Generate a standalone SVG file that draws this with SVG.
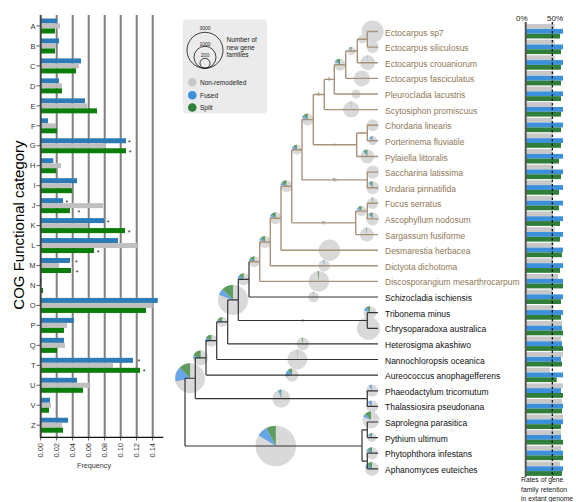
<svg xmlns="http://www.w3.org/2000/svg" width="576" height="502" viewBox="0 0 576 502">
<style>
text{font-family:"Liberation Sans",Arial,sans-serif}
.grid{stroke:#808080;stroke-width:2}
.lb{fill:#2c7bb6}.lg{fill:#c0c0c0}.lgr{fill:#0b7d0b}
.cat{font-size:7.5px;fill:#333;text-anchor:end}
.ast{font-size:7px;fill:#222}
.tick{stroke:#333;stroke-width:0.8}
.xt{font-size:7.5px;fill:#333;text-anchor:end}
.rg{fill:#c8c8c8}.rb{fill:#3b8fdb}.rgr{fill:#2f7f3b}
.pg{fill:#d9d9d9}
.sg{fill:none;stroke:#5f9d5f}
.sb{fill:none;stroke:#66a6e6}
.brown{fill:none;stroke:#a8927a;stroke-width:1.4}
.black{fill:none;stroke:#333;stroke-width:1.2}
.sp{font-size:8.5px}
.spb{fill:#8f7758}
.spk{fill:#111}
.leg{font-size:6.5px;fill:#222}
</style>

<!-- LEFT BAR CHART -->
<g id="cog-chart">
  <g id="gridlines">
    <line class="grid" x1="56.7" y1="15" x2="56.7" y2="437"/>
    <line class="grid" x1="72.7" y1="15" x2="72.7" y2="437"/>
    <line class="grid" x1="88.7" y1="15" x2="88.7" y2="437"/>
    <line class="grid" x1="104.7" y1="15" x2="104.7" y2="437"/>
    <line class="grid" x1="120.7" y1="15" x2="120.7" y2="437"/>
    <line class="grid" x1="136.7" y1="15" x2="136.7" y2="437"/>
    <line class="grid" x1="152.7" y1="15" x2="152.7" y2="437"/>
  </g>
  <g id="bars">
    <g transform="translate(0,26)"><rect class="lb" x="40.7" y="-7.5" width="16.3" height="5"/><rect class="lg" x="40.7" y="-2.5" width="19.3" height="5"/><rect class="lgr" x="40.7" y="2.5" width="14.3" height="5"/><text class="cat" x="35.5" y="2.7">A</text><line class="tick" x1="36.5" y1="0" x2="40.7" y2="0"/></g>
    <g transform="translate(0,45.96)"><rect class="lb" x="40.7" y="-7.5" width="18.3" height="5"/><rect class="lg" x="40.7" y="-2.5" width="15.3" height="5"/><rect class="lgr" x="40.7" y="2.5" width="14.3" height="5"/><text class="cat" x="35.5" y="2.7">B</text><line class="tick" x1="36.5" y1="0" x2="40.7" y2="0"/></g>
    <g transform="translate(0,65.92)"><rect class="lb" x="40.7" y="-7.5" width="40.3" height="5"/><rect class="lg" x="40.7" y="-2.5" width="38.3" height="5"/><rect class="lgr" x="40.7" y="2.5" width="35.3" height="5"/><text class="cat" x="35.5" y="2.7">C</text><line class="tick" x1="36.5" y1="0" x2="40.7" y2="0"/></g>
    <g transform="translate(0,85.88)"><rect class="lb" x="40.7" y="-7.5" width="18.3" height="5"/><rect class="lg" x="40.7" y="-2.5" width="21.3" height="5"/><rect class="lgr" x="40.7" y="2.5" width="21.3" height="5"/><text class="cat" x="35.5" y="2.7">D</text><line class="tick" x1="36.5" y1="0" x2="40.7" y2="0"/></g>
    <g transform="translate(0,105.84)"><rect class="lb" x="40.7" y="-7.5" width="44.3" height="5"/><rect class="lg" x="40.7" y="-2.5" width="46.3" height="5"/><rect class="lgr" x="40.7" y="2.5" width="56.3" height="5"/><text class="cat" x="35.5" y="2.7">E</text><line class="tick" x1="36.5" y1="0" x2="40.7" y2="0"/></g>
    <g transform="translate(0,125.8)"><rect class="lb" x="40.7" y="-7.5" width="7.3" height="5"/><rect class="lg" x="40.7" y="-2.5" width="15.3" height="5"/><rect class="lgr" x="40.7" y="2.5" width="16.3" height="5"/><text class="cat" x="35.5" y="2.7">F</text><line class="tick" x1="36.5" y1="0" x2="40.7" y2="0"/></g>
    <g transform="translate(0,145.76)"><rect class="lb" x="40.7" y="-7.5" width="85.3" height="5"/><rect class="lg" x="40.7" y="-2.5" width="65" height="5"/><rect class="lgr" x="40.7" y="2.5" width="85.3" height="5"/><text class="cat" x="35.5" y="2.7">G</text><line class="tick" x1="36.5" y1="0" x2="40.7" y2="0"/><text class="ast" x="128" y="-1">*</text><text class="ast" x="128.7" y="9">*</text></g>
    <g transform="translate(0,165.72)"><rect class="lb" x="40.7" y="-7.5" width="12.6" height="5"/><rect class="lg" x="40.7" y="-2.5" width="20.3" height="5"/><rect class="lgr" x="40.7" y="2.5" width="15.3" height="5"/><text class="cat" x="35.5" y="2.7">H</text><line class="tick" x1="36.5" y1="0" x2="40.7" y2="0"/></g>
    <g transform="translate(0,185.68)"><rect class="lb" x="40.7" y="-7.5" width="36.3" height="5"/><rect class="lg" x="40.7" y="-2.5" width="30.3" height="5"/><rect class="lgr" x="40.7" y="2.5" width="31.3" height="5"/><text class="cat" x="35.5" y="2.7">I</text><line class="tick" x1="36.5" y1="0" x2="40.7" y2="0"/></g>
    <g transform="translate(0,205.64)"><rect class="lb" x="40.7" y="-7.5" width="22.3" height="5"/><rect class="lg" x="40.7" y="-2.5" width="62.3" height="5"/><rect class="lgr" x="40.7" y="2.5" width="29.3" height="5"/><text class="cat" x="35.5" y="2.7">J</text><line class="tick" x1="36.5" y1="0" x2="40.7" y2="0"/><text class="ast" x="65.4" y="-1">*</text><text class="ast" x="77.4" y="9">*</text></g>
    <g transform="translate(0,225.6)"><rect class="lb" x="40.7" y="-7.5" width="63.3" height="5"/><rect class="lg" x="40.7" y="-2.5" width="47.3" height="5"/><rect class="lgr" x="40.7" y="2.5" width="84.3" height="5"/><text class="cat" x="35.5" y="2.7">K</text><line class="tick" x1="36.5" y1="0" x2="40.7" y2="0"/><text class="ast" x="106.7" y="-1">*</text><text class="ast" x="127.7" y="9">*</text></g>
    <g transform="translate(0,245.56)"><rect class="lb" x="40.7" y="-7.5" width="77.3" height="5"/><rect class="lg" x="40.7" y="-2.5" width="96.3" height="5"/><rect class="lgr" x="40.7" y="2.5" width="53.3" height="5"/><text class="cat" x="35.5" y="2.7">L</text><line class="tick" x1="36.5" y1="0" x2="40.7" y2="0"/><text class="ast" x="96.7" y="9">*</text></g>
    <g transform="translate(0,265.52)"><rect class="lb" x="40.7" y="-7.5" width="29.3" height="5"/><rect class="lg" x="40.7" y="-2.5" width="18.3" height="5"/><rect class="lgr" x="40.7" y="2.5" width="30.3" height="5"/><text class="cat" x="35.5" y="2.7">M</text><line class="tick" x1="36.5" y1="0" x2="40.7" y2="0"/><text class="ast" x="75" y="-1">*</text><text class="ast" x="75.7" y="9">*</text></g>
    <g transform="translate(0,285.48)"><rect class="lb" x="40.7" y="-7.5" width="1" height="5"/><rect class="lgr" x="40.7" y="2.5" width="2.3" height="5"/><text class="cat" x="35.5" y="2.7">N</text><line class="tick" x1="36.5" y1="0" x2="40.7" y2="0"/></g>
    <g transform="translate(0,305.44)"><rect class="lb" x="40.7" y="-7.5" width="117" height="5"/><rect class="lg" x="40.7" y="-2.5" width="112" height="5"/><rect class="lgr" x="40.7" y="2.5" width="105.3" height="5"/><text class="cat" x="35.5" y="2.7">O</text><line class="tick" x1="36.5" y1="0" x2="40.7" y2="0"/></g>
    <g transform="translate(0,325.4)"><rect class="lb" x="40.7" y="-7.5" width="33.3" height="5"/><rect class="lg" x="40.7" y="-2.5" width="26.3" height="5"/><rect class="lgr" x="40.7" y="2.5" width="23.3" height="5"/><text class="cat" x="35.5" y="2.7">P</text><line class="tick" x1="36.5" y1="0" x2="40.7" y2="0"/></g>
    <g transform="translate(0,345.36)"><rect class="lb" x="40.7" y="-7.5" width="23.3" height="5"/><rect class="lg" x="40.7" y="-2.5" width="24.3" height="5"/><rect class="lgr" x="40.7" y="2.5" width="16.3" height="5"/><text class="cat" x="35.5" y="2.7">Q</text><line class="tick" x1="36.5" y1="0" x2="40.7" y2="0"/></g>
    <g transform="translate(0,365.32)"><rect class="lb" x="40.7" y="-7.5" width="92.3" height="5"/><rect class="lg" x="40.7" y="-2.5" width="72.3" height="5"/><rect class="lgr" x="40.7" y="2.5" width="99.3" height="5"/><text class="cat" x="35.5" y="2.7">T</text><line class="tick" x1="36.5" y1="0" x2="40.7" y2="0"/><text class="ast" x="137.4" y="-1">*</text><text class="ast" x="142.7" y="9">*</text></g>
    <g transform="translate(0,385.28)"><rect class="lb" x="40.7" y="-7.5" width="36.3" height="5"/><rect class="lg" x="40.7" y="-2.5" width="48.3" height="5"/><rect class="lgr" x="40.7" y="2.5" width="42.3" height="5"/><text class="cat" x="35.5" y="2.7">U</text><line class="tick" x1="36.5" y1="0" x2="40.7" y2="0"/></g>
    <g transform="translate(0,405.24)"><rect class="lb" x="40.7" y="-7.5" width="9.3" height="5"/><rect class="lg" x="40.7" y="-2.5" width="10.3" height="5"/><rect class="lgr" x="40.7" y="2.5" width="8.3" height="5"/><text class="cat" x="35.5" y="2.7">V</text><line class="tick" x1="36.5" y1="0" x2="40.7" y2="0"/></g>
    <g transform="translate(0,425.2)"><rect class="lb" x="40.7" y="-7.5" width="27.3" height="5"/><rect class="lg" x="40.7" y="-2.5" width="21.3" height="5"/><rect class="lgr" x="40.7" y="2.5" width="22.3" height="5"/><text class="cat" x="35.5" y="2.7">Z</text><line class="tick" x1="36.5" y1="0" x2="40.7" y2="0"/></g>
  </g>
  <g id="axes">
    <line x1="40.7" y1="15" x2="40.7" y2="437.5" stroke="#444" stroke-width="2"/>
    <line x1="40" y1="437.3" x2="163.3" y2="437.3" stroke="#111" stroke-width="1.2"/>
    <g class="tick">
      <line x1="40.7" y1="437" x2="40.7" y2="440.5"/><line x1="56.7" y1="437" x2="56.7" y2="440.5"/><line x1="72.7" y1="437" x2="72.7" y2="440.5"/><line x1="88.7" y1="437" x2="88.7" y2="440.5"/><line x1="104.7" y1="437" x2="104.7" y2="440.5"/><line x1="120.7" y1="437" x2="120.7" y2="440.5"/><line x1="136.7" y1="437" x2="136.7" y2="440.5"/><line x1="152.7" y1="437" x2="152.7" y2="440.5"/>
    </g>
    <text class="xt" transform="translate(43.3,443) rotate(-90)">0.00</text>
    <text class="xt" transform="translate(59.3,443) rotate(-90)">0.02</text>
    <text class="xt" transform="translate(75.3,443) rotate(-90)">0.04</text>
    <text class="xt" transform="translate(91.3,443) rotate(-90)">0.06</text>
    <text class="xt" transform="translate(107.3,443) rotate(-90)">0.08</text>
    <text class="xt" transform="translate(123.3,443) rotate(-90)">0.10</text>
    <text class="xt" transform="translate(139.3,443) rotate(-90)">0.12</text>
    <text class="xt" transform="translate(155.3,443) rotate(-90)">0.14</text>
    <text x="94" y="467.5" font-size="7.2" fill="#333" text-anchor="middle">Frequency</text>
    <text transform="translate(24,225) rotate(-90)" font-size="15" fill="#000" text-anchor="middle">COG Functional category</text>
  </g>
</g>

<!-- LEGEND -->
<g id="legend">
  <rect x="183" y="19.5" width="84" height="94" rx="4" fill="#ebebeb"/>
  <circle cx="205" cy="50.3" r="18" fill="none" stroke="#111" stroke-width="0.8"/>
  <circle cx="205" cy="57.3" r="11" fill="none" stroke="#111" stroke-width="0.8"/>
  <circle cx="205" cy="63.3" r="5" fill="none" stroke="#111" stroke-width="0.8"/>
  <text x="205" y="30" font-size="5" fill="#222" text-anchor="middle">3000</text>
  <text x="205" y="45.8" font-size="5" fill="#222" text-anchor="middle">1000</text>
  <text x="205" y="56.8" font-size="5" fill="#222" text-anchor="middle">200</text>
  <text class="leg" x="226.5" y="42">Number of</text>
  <text class="leg" x="226.5" y="49.7">new gene</text>
  <text class="leg" x="226.5" y="57.2">families</text>
  <circle cx="192.3" cy="82.3" r="4.3" fill="#c8c8c8"/>
  <circle cx="192.3" cy="95.3" r="4.3" fill="#3b8fdb"/>
  <circle cx="192.3" cy="107.5" r="4.3" fill="#2f7f3b"/>
  <text class="leg" x="200" y="84.5">Non-remodelled</text>
  <text class="leg" x="200" y="97.5">Fused</text>
  <text class="leg" x="200" y="109.7">Split</text>
</g>

<!-- TREE: node pies (drawn below connectors) -->
<g id="node-pies">
  <g id="n1" transform="matrix(0 -1 -1 0 362.3 39.3)"><circle class="pg" r="4"/></g>
  <g id="n2" transform="matrix(0 -1 -1 0 351.5 51)"><circle class="pg" r="4"/><circle class="sg" r="2" stroke-width="4" pathLength="360" stroke-dasharray="25 360"/><circle class="sb" r="2" stroke-width="4" pathLength="360" stroke-dasharray="0 25 12 360"/></g>
  <g id="n3" transform="matrix(0 -1 -1 0 340 64.7)"><circle class="pg" r="6"/><circle class="sg" r="3" stroke-width="6" pathLength="360" stroke-dasharray="40 360"/><circle class="sb" r="3" stroke-width="6" pathLength="360" stroke-dasharray="0 40 20 360"/></g>
  <g id="n4" transform="matrix(0 -1 -1 0 329.3 79.35)"><circle class="pg" r="2"/><circle class="sg" r="1" stroke-width="2" pathLength="360" stroke-dasharray="30 360"/></g>
  <g id="n5" transform="matrix(0 -1 -1 0 318.8 94.5)"><circle class="pg" r="2"/><circle class="sg" r="1" stroke-width="2" pathLength="360" stroke-dasharray="30 360"/></g>
  <g id="n7" transform="matrix(0 -1 -1 0 362 133)"><circle class="pg" r="1.5"/></g>
  <g id="n8" transform="matrix(0 -1 -1 0 335 144.75)"><circle class="pg" r="1.6"/></g>
  <g id="n6" transform="matrix(0 -1 -1 0 307.65 119.6)"><circle class="pg" r="6"/><circle class="sg" r="3" stroke-width="6" pathLength="360" stroke-dasharray="40 360"/><circle class="sb" r="3" stroke-width="6" pathLength="360" stroke-dasharray="0 40 30 360"/></g>
  <g id="nSU" transform="matrix(0 -1 -1 0 334.65 179.9)"><circle class="pg" r="2.2"/><circle class="sb" r="1.1" stroke-width="2.2" pathLength="360" stroke-dasharray="0 5 60 360"/></g>
  <g id="n9" transform="matrix(0 -1 -1 0 296.85 149.75)"><circle class="pg" r="5"/><circle class="sg" r="2.5" stroke-width="5" pathLength="360" stroke-dasharray="45 360"/><circle class="sb" r="2.5" stroke-width="5" pathLength="360" stroke-dasharray="0 45 30 360"/></g>
  <g id="nFA" transform="matrix(0 -1 -1 0 361.5 211.1)"><circle class="pg" r="5"/><circle class="sg" r="2.5" stroke-width="5" pathLength="360" stroke-dasharray="40 360"/><circle class="sb" r="2.5" stroke-width="5" pathLength="360" stroke-dasharray="0 40 25 360"/></g>
  <g id="nFAS" transform="matrix(0 -1 -1 0 323.7 222.85)"><circle class="pg" r="2"/><circle class="sb" r="1" stroke-width="2" pathLength="360" stroke-dasharray="0 5 50 360"/></g>
  <g id="n10" transform="matrix(0 -1 -1 0 286.35 186.3)"><circle class="pg" r="6"/><circle class="sg" r="3" stroke-width="6" pathLength="360" stroke-dasharray="50 360"/><circle class="sb" r="3" stroke-width="6" pathLength="360" stroke-dasharray="0 50 25 360"/></g>
  <g id="n11" transform="matrix(0 -1 -1 0 275.65 218.25)"><circle class="pg" r="6"/><circle class="sg" r="3" stroke-width="6" pathLength="360" stroke-dasharray="45 360"/><circle class="sb" r="3" stroke-width="6" pathLength="360" stroke-dasharray="0 45 25 360"/></g>
  <g id="n12" transform="matrix(0 -1 -1 0 265 242)"><circle class="pg" r="6"/><circle class="sg" r="3" stroke-width="6" pathLength="360" stroke-dasharray="45 360"/><circle class="sb" r="3" stroke-width="6" pathLength="360" stroke-dasharray="0 45 25 360"/></g>
  <g id="n13" transform="matrix(0 -1 -1 0 254.35 261.7)"><circle class="pg" r="5.5"/><circle class="sg" r="2.75" stroke-width="5.5" pathLength="360" stroke-dasharray="50 360"/><circle class="sb" r="2.75" stroke-width="5.5" pathLength="360" stroke-dasharray="0 50 30 360"/></g>
  <g id="n14" transform="matrix(0 -1 -1 0 243.65 279.35)"><circle class="pg" r="6"/><circle class="sg" r="3" stroke-width="6" pathLength="360" stroke-dasharray="50 360"/><circle class="sb" r="3" stroke-width="6" pathLength="360" stroke-dasharray="0 50 35 360"/></g>
  <g id="nTC" transform="matrix(0 -1 -1 0 302.8 320.5)"><circle class="pg" r="1.6"/><circle class="sg" r="0.8" stroke-width="1.6" pathLength="360" stroke-dasharray="40 360"/></g>
  <g id="n15" transform="matrix(0 -1 -1 0 233 299.9)"><circle class="pg" r="15"/><circle class="sg" r="7.5" stroke-width="15" pathLength="360" stroke-dasharray="45 360"/><circle class="sb" r="7.5" stroke-width="15" pathLength="360" stroke-dasharray="0 45 25 360"/></g>
  <g id="n16" transform="matrix(0 -1 -1 0 222.2 321.9)"><circle class="pg" r="5"/><circle class="sg" r="2.5" stroke-width="5" pathLength="360" stroke-dasharray="60 360"/><circle class="sb" r="2.5" stroke-width="5" pathLength="360" stroke-dasharray="0 60 30 360"/></g>
  <g id="n17" transform="matrix(0 -1 -1 0 211.35 340.7)"><circle class="pg" r="6"/><circle class="sg" r="3" stroke-width="6" pathLength="360" stroke-dasharray="60 360"/><circle class="sb" r="3" stroke-width="6" pathLength="360" stroke-dasharray="0 60 40 360"/></g>
  <g id="n18" transform="matrix(0 -1 -1 0 200.65 357.9)"><circle class="pg" r="7.5"/><circle class="sg" r="3.75" stroke-width="7.5" pathLength="360" stroke-dasharray="70 360"/><circle class="sb" r="3.75" stroke-width="7.5" pathLength="360" stroke-dasharray="0 70 25 360"/></g>
  <g id="nPT" transform="matrix(0 -1 -1 0 281.3 398.6)"><circle class="pg" r="9"/><circle class="sg" r="4.5" stroke-width="9" pathLength="360" stroke-dasharray="10 360"/><circle class="sb" r="4.5" stroke-width="9" pathLength="360" stroke-dasharray="0 10 12 360"/></g>
  <g id="n19" transform="matrix(0 -1 -1 0 190.15 378.25)"><circle class="pg" r="15"/><circle class="sg" r="7.5" stroke-width="15" pathLength="360" stroke-dasharray="45 360"/><circle class="sb" r="7.5" stroke-width="15" pathLength="360" stroke-dasharray="0 45 58 360"/></g>
  <g id="nOO" transform="matrix(0 -1 -1 0 275.8 446)"><circle class="pg" r="20.3"/><circle class="sg" r="10.15" stroke-width="20.3" pathLength="360" stroke-dasharray="28 360"/><circle class="sb" r="10.15" stroke-width="20.3" pathLength="360" stroke-dasharray="0 28 30 360"/></g>
</g>

<!-- Leaf pies -->
<g id="leaf-pies">
  <g transform="matrix(0 -1 -1 0 372.65 31.5)"><circle class="pg" r="11"/></g>
  <g transform="matrix(0 -1 -1 0 372.65 47.1)"><circle class="pg" r="6"/></g>
  <g transform="matrix(0 -1 -1 0 367.65 62.7)"><circle class="pg" r="7.5"/><circle class="sb" r="3.75" stroke-width="7.5" pathLength="360" stroke-dasharray="0 2 4 360"/></g>
  <g transform="matrix(0 -1 -1 0 361.85 78.4)"><circle class="pg" r="8"/></g>
  <g transform="matrix(0 -1 -1 0 356.15 94)"><circle class="pg" r="4.5"/></g>
  <g transform="matrix(0 -1 -1 0 351.15 109.6)"><circle class="pg" r="8"/><circle class="sg" r="4" stroke-width="8" pathLength="360" stroke-dasharray="4 360"/></g>
  <g transform="matrix(0 -1 -1 0 372.65 125.2)"><circle class="pg" r="6"/></g>
  <g transform="matrix(0 -1 -1 0 372.65 140.8)"><circle class="pg" r="4.5"/><circle class="sg" r="2.25" stroke-width="4.5" pathLength="360" stroke-dasharray="10 360"/><circle class="sb" r="2.25" stroke-width="4.5" pathLength="360" stroke-dasharray="0 10 40 360"/></g>
  <g transform="matrix(0 -1 -1 0 367.35 156.5)"><circle class="pg" r="7"/><circle class="sg" r="3.5" stroke-width="7" pathLength="360" stroke-dasharray="25 360"/><circle class="sb" r="3.5" stroke-width="7" pathLength="360" stroke-dasharray="0 25 15 360"/></g>
  <g transform="matrix(0 -1 -1 0 372.65 172.1)"><circle class="pg" r="6.5"/></g>
  <g transform="matrix(0 -1 -1 0 372.65 187.7)"><circle class="pg" r="6.5"/><circle class="sg" r="3.25" stroke-width="6.5" pathLength="360" stroke-dasharray="25 360"/><circle class="sb" r="3.25" stroke-width="6.5" pathLength="360" stroke-dasharray="0 25 15 360"/></g>
  <g transform="matrix(0 -1 -1 0 372.65 203.3)"><circle class="pg" r="5.7"/><circle class="sg" r="2.85" stroke-width="5.7" pathLength="360" stroke-dasharray="10 360"/></g>
  <g transform="matrix(0 -1 -1 0 372.65 218.9)"><circle class="pg" r="6.5"/><circle class="sg" r="3.25" stroke-width="6.5" pathLength="360" stroke-dasharray="25 360"/><circle class="sb" r="3.25" stroke-width="6.5" pathLength="360" stroke-dasharray="0 25 15 360"/></g>
  <g transform="matrix(0 -1 -1 0 366.85 234.6)"><circle class="pg" r="7"/><circle class="sg" r="3.5" stroke-width="7" pathLength="360" stroke-dasharray="5 360"/><circle class="sb" r="3.5" stroke-width="7" pathLength="360" stroke-dasharray="0 5 5 360"/></g>
  <g transform="matrix(0 -1 -1 0 329.5 250.2)"><circle class="pg" r="10.7"/></g>
  <g transform="matrix(0 -1 -1 0 324.15 265.8)"><circle class="pg" r="5.7"/><circle class="sg" r="2.85" stroke-width="5.7" pathLength="360" stroke-dasharray="5 360"/><circle class="sb" r="2.85" stroke-width="5.7" pathLength="360" stroke-dasharray="0 5 10 360"/></g>
  <g transform="matrix(0 -1 -1 0 318.85 281.4)"><circle class="pg" r="10.3"/><circle class="sg" r="5.15" stroke-width="10.3" pathLength="360" stroke-dasharray="8 360"/></g>
  <g transform="matrix(0 -1 -1 0 313.5 297)"><circle class="pg" r="5.3"/><circle class="sg" r="2.65" stroke-width="5.3" pathLength="360" stroke-dasharray="8 360"/></g>
  <g transform="matrix(0 -1 -1 0 370 312.7)"><circle class="pg" r="6.5"/><circle class="sg" r="3.25" stroke-width="6.5" pathLength="360" stroke-dasharray="35 360"/><circle class="sb" r="3.25" stroke-width="6.5" pathLength="360" stroke-dasharray="0 35 30 360"/></g>
  <g transform="matrix(0 -1 -1 0 368.5 328.3)"><circle class="pg" r="11.5"/></g>
  <g transform="matrix(0 -1 -1 0 302.85 343.9)"><circle class="pg" r="6.3"/><circle class="sg" r="3.15" stroke-width="6.3" pathLength="360" stroke-dasharray="12 360"/></g>
  <g transform="matrix(0 -1 -1 0 297.35 359.5)"><circle class="pg" r="10"/><circle class="sg" r="5" stroke-width="10" pathLength="360" stroke-dasharray="3 360"/></g>
  <g transform="matrix(0 -1 -1 0 292 375.1)"><circle class="pg" r="6.5"/><circle class="sg" r="3.25" stroke-width="6.5" pathLength="360" stroke-dasharray="35 360"/><circle class="sb" r="3.25" stroke-width="6.5" pathLength="360" stroke-dasharray="0 35 70 360"/></g>
  <g transform="matrix(0 -1 -1 0 372 390.8)"><circle class="pg" r="6"/><circle class="sg" r="3" stroke-width="6" pathLength="360" stroke-dasharray="5 360"/><circle class="sb" r="3" stroke-width="6" pathLength="360" stroke-dasharray="0 5 25 360"/></g>
  <g transform="matrix(0 -1 -1 0 372 406.4)"><circle class="pg" r="6"/><circle class="sb" r="3" stroke-width="6" pathLength="360" stroke-dasharray="0 3 40 360"/></g>
  <g transform="matrix(0 -1 -1 0 371 420)"><circle class="pg" r="8.5"/><circle class="sg" r="4.25" stroke-width="8.5" pathLength="360" stroke-dasharray="45 360"/><circle class="sb" r="4.25" stroke-width="8.5" pathLength="360" stroke-dasharray="0 45 20 360"/></g>
  <g transform="matrix(0 -1 -1 0 372 437.6)"><circle class="pg" r="4.5"/><circle class="sg" r="2.25" stroke-width="4.5" pathLength="360" stroke-dasharray="30 360"/><circle class="sb" r="2.25" stroke-width="4.5" pathLength="360" stroke-dasharray="0 30 30 360"/></g>
  <g transform="matrix(0 -1 -1 0 372 453.2)"><circle class="pg" r="6"/><circle class="sg" r="3" stroke-width="6" pathLength="360" stroke-dasharray="40 360"/><circle class="sb" r="3" stroke-width="6" pathLength="360" stroke-dasharray="0 40 30 360"/></g>
  <g transform="matrix(0 -1 -1 0 372 468.9)"><circle class="pg" r="7"/><circle class="sg" r="3.5" stroke-width="7" pathLength="360" stroke-dasharray="45 360"/><circle class="sb" r="3.5" stroke-width="7" pathLength="360" stroke-dasharray="0 45 30 360"/></g>
</g>

<!-- CONNECTORS -->
<g id="connectors">
  <path class="brown" d="M367.3,31.5V47.1M367.3,31.5H378M367.3,47.1H378M357.3,39.3V62.7M357.3,39.3H367.3M357.3,62.7H378M345.7,51V78.4M345.7,51H357.3M345.7,78.4H378M334.3,64.7V94M334.3,64.7H345.7M334.3,94H378M324.3,79.35V109.6M324.3,79.35H334.3M324.3,109.6H378M367.3,125.2V140.8M367.3,125.2H378M367.3,140.8H378M356.7,133V156.5M356.7,133H367.3M356.7,156.5H378M313.3,94.5V144.75M313.3,94.5H324.3M313.3,144.75H356.7M367.3,172.1V187.7M367.3,172.1H378M367.3,187.7H378M302,119.6V179.9M302,119.6H313.3M302,179.9H367.3M367.3,203.3V218.9M367.3,203.3H378M367.3,218.9H378M355.7,211.1V234.6M355.7,211.1H367.3M355.7,234.6H378M291.7,149.75V222.85M291.7,149.75H302M291.7,222.85H355.7M281,186.3V250.2M281,186.3H291.7M281,250.2H378M270.3,218.25V265.8M270.3,218.25H281M270.3,265.8H378M259.7,242V281.4M259.7,242H270.3M259.7,281.4H378M249,261.7H259.7"/>
  <path class="black" d="M249,261.7V297M249,297H378M367.3,312.7V328.3M367.3,312.7H378M367.3,328.3H378M238.3,279.35V320.5M238.3,279.35H249M238.3,320.5H367.3M227.7,299.9V343.9M227.7,299.9H238.3M227.7,343.9H378M216.7,321.9V359.5M216.7,321.9H227.7M216.7,359.5H378M206,340.7V375.1M206,340.7H216.7M206,375.1H378M367.3,390.8V406.4M367.3,390.8H378M367.3,406.4H378M195.3,357.9V398.6M195.3,357.9H206M195.3,398.6H367.3M185,378.25V446M185,378.25H195.3M185,446H362M367.3,422V437.6M367.3,422H378M367.3,437.6H378M367.3,453.2V468.9M367.3,453.2H378M367.3,468.9H378M362,429.8V461.05M362,429.8H367.3M362,461.05H367.3"/>
</g>

<!-- SPECIES LABELS -->
<g id="species" class="sp">
  <text id="sp-ectocarpus-sp7" class="spb" x="385" y="35.5">Ectocarpus sp7</text>
  <text id="sp-ectocarpus-siliculosus" class="spb" x="385" y="51.1">Ectocarpus siliculosus</text>
  <text id="sp-ectocarpus-crouaniorum" class="spb" x="385" y="66.7">Ectocarpus crouaniorum</text>
  <text id="sp-ectocarpus-fasciculatus" class="spb" x="385" y="82.4">Ectocarpus fasciculatus</text>
  <text id="sp-pleurocladia" class="spb" x="385" y="98">Pleurocladia lacustris</text>
  <text id="sp-scytosiphon" class="spb" x="385" y="113.6">Scytosiphon promiscuus</text>
  <text id="sp-chordaria" class="spb" x="385" y="129.2">Chordaria linearis</text>
  <text id="sp-porterinema" class="spb" x="385" y="144.8">Porterinema fluviatile</text>
  <text id="sp-pylaiella" class="spb" x="385" y="160.5">Pylaiella littoralis</text>
  <text id="sp-saccharina" class="spb" x="385" y="176.1">Saccharina latissima</text>
  <text id="sp-undaria" class="spb" x="385" y="191.7">Undaria pinnatifida</text>
  <text id="sp-fucus" class="spb" x="385" y="207.3">Fucus serratus</text>
  <text id="sp-ascophyllum" class="spb" x="385" y="222.9">Ascophyllum nodosum</text>
  <text id="sp-sargassum" class="spb" x="385" y="238.6">Sargassum fusiforme</text>
  <text id="sp-desmarestia" class="spb" x="385" y="254.2">Desmarestia herbacea</text>
  <text id="sp-dictyota" class="spb" x="385" y="269.8">Dictyota dichotoma</text>
  <text id="sp-discosporangium" class="spb" x="385" y="285.4">Discosporangium mesarthrocarpum</text>
  <text id="sp-schizocladia" class="spk" x="385" y="301">Schizocladia ischiensis</text>
  <text id="sp-tribonema" class="spk" x="385" y="316.7">Tribonema minus</text>
  <text id="sp-chrysoparadoxa" class="spk" x="385" y="332.3">Chrysoparadoxa australica</text>
  <text id="sp-heterosigma" class="spk" x="385" y="347.9">Heterosigma akashiwo</text>
  <text id="sp-nannochloropsis" class="spk" x="385" y="363.5">Nannochloropsis oceanica</text>
  <text id="sp-aureococcus" class="spk" x="385" y="379.1">Aureococcus anophagefferens</text>
  <text id="sp-phaeodactylum" class="spk" x="385" y="394.8">Phaeodactylum tricornutum</text>
  <text id="sp-thalassiosira" class="spk" x="385" y="410.4">Thalassiosira pseudonana</text>
  <text id="sp-saprolegna" class="spk" x="385" y="426">Saprolegna parasitica</text>
  <text id="sp-pythium" class="spk" x="385" y="441.6">Pythium ultimum</text>
  <text id="sp-phytophthora" class="spk" x="385" y="457.2">Phytophthora infestans</text>
  <text id="sp-aphanomyces" class="spk" x="385" y="472.9">Aphanomyces euteiches</text>
</g>

<!-- RIGHT RETENTION CHART -->
<g id="retention-chart">
  <text x="527.5" y="20.7" font-size="8" fill="#222" text-anchor="end">0%</text>
  <text x="547" y="20.7" font-size="8" fill="#222">50%</text>
  <g transform="translate(0,31.5)"><rect class="rg" x="526" y="-7.4" width="28.7" height="4.8"/><rect class="rb" x="526" y="-2.6" width="37" height="4.8"/><rect class="rgr" x="526" y="2.2" width="34" height="4.8"/></g>
  <g transform="translate(0,47.1)"><rect class="rg" x="526" y="-7.4" width="28.7" height="4.8"/><rect class="rb" x="526" y="-2.6" width="37" height="4.8"/><rect class="rgr" x="526" y="2.2" width="35" height="4.8"/></g>
  <g transform="translate(0,62.7)"><rect class="rg" x="526" y="-7.4" width="28.7" height="4.8"/><rect class="rb" x="526" y="-2.6" width="37" height="4.8"/><rect class="rgr" x="526" y="2.2" width="35" height="4.8"/></g>
  <g transform="translate(0,78.4)"><rect class="rg" x="526" y="-7.4" width="27.7" height="4.8"/><rect class="rb" x="526" y="-2.6" width="37" height="4.8"/><rect class="rgr" x="526" y="2.2" width="35" height="4.8"/></g>
  <g transform="translate(0,94)"><rect class="rg" x="526" y="-7.4" width="26.3" height="4.8"/><rect class="rb" x="526" y="-2.6" width="37" height="4.8"/><rect class="rgr" x="526" y="2.2" width="35" height="4.8"/></g>
  <g transform="translate(0,109.6)"><rect class="rg" x="526" y="-7.4" width="26.3" height="4.8"/><rect class="rb" x="526" y="-2.6" width="37" height="4.8"/><rect class="rgr" x="526" y="2.2" width="35" height="4.8"/></g>
  <g transform="translate(0,125.2)"><rect class="rg" x="526" y="-7.4" width="26.3" height="4.8"/><rect class="rb" x="526" y="-2.6" width="37" height="4.8"/><rect class="rgr" x="526" y="2.2" width="35" height="4.8"/></g>
  <g transform="translate(0,140.8)"><rect class="rg" x="526" y="-7.4" width="26.3" height="4.8"/><rect class="rb" x="526" y="-2.6" width="37" height="4.8"/><rect class="rgr" x="526" y="2.2" width="35" height="4.8"/></g>
  <g transform="translate(0,156.5)"><rect class="rg" x="526" y="-7.4" width="26.3" height="4.8"/><rect class="rb" x="526" y="-2.6" width="37" height="4.8"/><rect class="rgr" x="526" y="2.2" width="33" height="4.8"/></g>
  <g transform="translate(0,172.1)"><rect class="rg" x="526" y="-7.4" width="26.7" height="4.8"/><rect class="rb" x="526" y="-2.6" width="37" height="4.8"/><rect class="rgr" x="526" y="2.2" width="35" height="4.8"/></g>
  <g transform="translate(0,187.7)"><rect class="rg" x="526" y="-7.4" width="26.7" height="4.8"/><rect class="rb" x="526" y="-2.6" width="37" height="4.8"/><rect class="rgr" x="526" y="2.2" width="33" height="4.8"/></g>
  <g transform="translate(0,203.3)"><rect class="rg" x="526" y="-7.4" width="26.7" height="4.8"/><rect class="rb" x="526" y="-2.6" width="37" height="4.8"/><rect class="rgr" x="526" y="2.2" width="33" height="4.8"/></g>
  <g transform="translate(0,218.9)"><rect class="rg" x="526" y="-7.4" width="26.7" height="4.8"/><rect class="rb" x="526" y="-2.6" width="37" height="4.8"/><rect class="rgr" x="526" y="2.2" width="34" height="4.8"/></g>
  <g transform="translate(0,234.6)"><rect class="rg" x="526" y="-7.4" width="28.7" height="4.8"/><rect class="rb" x="526" y="-2.6" width="37" height="4.8"/><rect class="rgr" x="526" y="2.2" width="34" height="4.8"/></g>
  <g transform="translate(0,250.2)"><rect class="rg" x="526" y="-7.4" width="27.7" height="4.8"/><rect class="rb" x="526" y="-2.6" width="37" height="4.8"/><rect class="rgr" x="526" y="2.2" width="36" height="4.8"/></g>
  <g transform="translate(0,265.8)"><rect class="rg" x="526" y="-7.4" width="26.7" height="4.8"/><rect class="rb" x="526" y="-2.6" width="37" height="4.8"/><rect class="rgr" x="526" y="2.2" width="34" height="4.8"/></g>
  <g transform="translate(0,281.4)"><rect class="rg" x="526" y="-7.4" width="32" height="4.8"/><rect class="rb" x="526" y="-2.6" width="37" height="4.8"/><rect class="rgr" x="526" y="2.2" width="37" height="4.8"/></g>
  <g transform="translate(0,297)"><rect class="rg" x="526" y="-7.4" width="26.7" height="4.8"/><rect class="rb" x="526" y="-2.6" width="37" height="4.8"/><rect class="rgr" x="526" y="2.2" width="35" height="4.8"/></g>
  <g transform="translate(0,312.7)"><rect class="rg" x="526" y="-7.4" width="27.7" height="4.8"/><rect class="rb" x="526" y="-2.6" width="37" height="4.8"/><rect class="rgr" x="526" y="2.2" width="35" height="4.8"/></g>
  <g transform="translate(0,328.3)"><rect class="rg" x="526" y="-7.4" width="36" height="4.8"/><rect class="rb" x="526" y="-2.6" width="36" height="4.8"/><rect class="rgr" x="526" y="2.2" width="37" height="4.8"/></g>
  <g transform="translate(0,343.9)"><rect class="rg" x="526" y="-7.4" width="35" height="4.8"/><rect class="rb" x="526" y="-2.6" width="36" height="4.8"/><rect class="rgr" x="526" y="2.2" width="37" height="4.8"/></g>
  <g transform="translate(0,359.5)"><rect class="rg" x="526" y="-7.4" width="37" height="4.8"/><rect class="rb" x="526" y="-2.6" width="35" height="4.8"/><rect class="rgr" x="526" y="2.2" width="36" height="4.8"/></g>
  <g transform="translate(0,375.1)"><rect class="rg" x="526" y="-7.4" width="24" height="4.8"/><rect class="rb" x="526" y="-2.6" width="37" height="4.8"/><rect class="rgr" x="526" y="2.2" width="30.7" height="4.8"/></g>
  <g transform="translate(0,390.8)"><rect class="rg" x="526" y="-7.4" width="37" height="4.8"/><rect class="rb" x="526" y="-2.6" width="35" height="4.8"/><rect class="rgr" x="526" y="2.2" width="37" height="4.8"/></g>
  <g transform="translate(0,406.4)"><rect class="rg" x="526" y="-7.4" width="36" height="4.8"/><rect class="rb" x="526" y="-2.6" width="37" height="4.8"/><rect class="rgr" x="526" y="2.2" width="36" height="4.8"/></g>
  <g transform="translate(0,422)"><rect class="rg" x="526" y="-7.4" width="37" height="4.8"/><rect class="rb" x="526" y="-2.6" width="37" height="4.8"/><rect class="rgr" x="526" y="2.2" width="35" height="4.8"/></g>
  <g transform="translate(0,437.6)"><rect class="rg" x="526" y="-7.4" width="35" height="4.8"/><rect class="rb" x="526" y="-2.6" width="35" height="4.8"/><rect class="rgr" x="526" y="2.2" width="37" height="4.8"/></g>
  <g transform="translate(0,453.2)"><rect class="rg" x="526" y="-7.4" width="35" height="4.8"/><rect class="rb" x="526" y="-2.6" width="37" height="4.8"/><rect class="rgr" x="526" y="2.2" width="37" height="4.8"/></g>
  <g transform="translate(0,468.9)"><rect class="rg" x="526" y="-7.4" width="34" height="4.8"/><rect class="rb" x="526" y="-2.6" width="37" height="4.8"/><rect class="rgr" x="526" y="2.2" width="36" height="4.8"/></g>
  <line x1="525.7" y1="22" x2="525.7" y2="477" stroke="#555" stroke-width="2"/>
  <line x1="552.3" y1="22" x2="552.3" y2="478" stroke="#000" stroke-width="1.2" stroke-dasharray="2.5 2"/>
  <text x="521" y="482" font-size="6.8" fill="#222">Rates of gene</text>
  <text x="521" y="491.5" font-size="6.8" fill="#222">family retention</text>
  <text x="521" y="501" font-size="6.8" fill="#222">in extant genome</text>
</g>
</svg>
